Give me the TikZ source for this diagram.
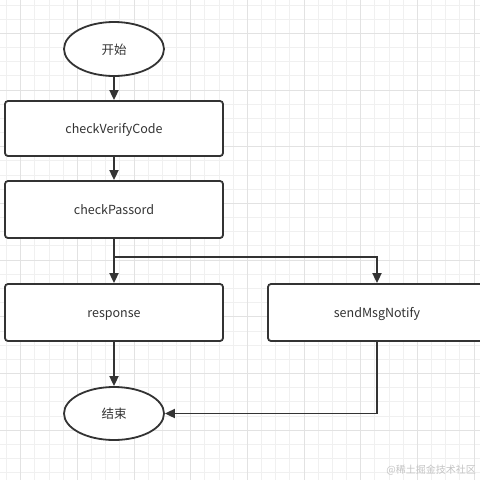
\documentclass[tikz,border=0pt]{standalone}
\usepackage{fontspec}
\setmainfont{Noto Sans CJK SC}
\usetikzlibrary{shapes.geometric,arrows.meta}
\definecolor{linec}{HTML}{333333}
\definecolor{textc}{HTML}{333333}
\definecolor{gridminor}{HTML}{F0F0F0}
\definecolor{gridmajor}{HTML}{E2E2E2}
\definecolor{wmark}{HTML}{C4C4C4}
\tikzset{
  procbox/.style={draw=linec, line width=1.8pt, rounded corners=3pt, fill=white,
    minimum width=218pt, minimum height=56pt, inner sep=0pt, text=textc,
    text height=11pt, text depth=1pt,
    font=\fontsize{12.5}{14}\selectfont},
  termnode/.style={draw=linec, line width=1.8pt, ellipse, fill=white,
    minimum width=100pt, minimum height=54pt, inner sep=0pt, text=textc,
    text height=11pt, text depth=1pt,
    font=\fontsize{12.5}{14}\selectfont},
  arr/.style={draw=linec, line width=1.8pt, -{Triangle[length=10pt,width=9pt]}},
}
\begin{document}
\begin{tikzpicture}[x=1pt,y=-1pt]
\useasboundingbox (0,0) rectangle (480,480);
\clip (0,0) rectangle (480,480);
\fill[white] (0,0) rectangle (480,480);
% grid
\foreach \i in {0,...,34} {
  \pgfmathsetmacro{\xx}{6.4+14.17*\i}
  \pgfmathsetmacro{\yy}{5+14.17*\i}
  \draw[gridminor, line width=0.8pt] (\xx,0) -- (\xx,480);
  \draw[gridminor, line width=0.8pt] (0,\yy) -- (480,\yy);
}
\foreach \i in {1,5,...,33} {
  \pgfmathsetmacro{\xx}{6.4+14.17*\i}
  \draw[gridmajor, line width=0.8pt] (\xx,0) -- (\xx,480);
}
\foreach \i in {2,6,...,34} {
  \pgfmathsetmacro{\yy}{5+14.17*\i}
  \draw[gridmajor, line width=0.8pt] (0,\yy) -- (480,\yy);
}
% nodes
\node[termnode] (start) at (114,49) {开始};
\node[procbox, minimum height=55pt] (cvc) at (114,128.5) {checkVerifyCode};
\node[procbox, minimum height=57pt] (cp) at (114,209.5) {checkPassord};
\node[procbox, minimum height=57pt] (resp) at (114,312.5) {response};
\node[procbox, minimum height=57pt] (send) at (377,312.5) {sendMsgNotify};
\node[termnode, minimum height=53pt] (end) at (114,413.5) {结束};
\coordinate (br) at (114,257);
% connectors
\draw[arr] (start) -- (cvc);
\draw[arr] (cvc) -- (cp);
\draw[arr] (cp) -- (resp);
\draw[arr] (br) -| (send);
\draw[arr] (send) |- (end);
\draw[arr] (resp) -- (end);
% watermark
\node[text=wmark, font=\fontsize{10}{12}\selectfont, anchor=east, inner sep=0pt] (wm) at (476,470) {@稀土掘金技术社区};
\end{tikzpicture}
\end{document}
